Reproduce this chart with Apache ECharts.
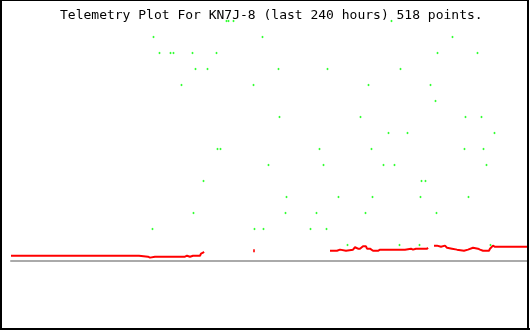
<!DOCTYPE html>
<html>
<head>
<meta charset="utf-8">
<script src="https://cdn.jsdelivr.net/npm/echarts@6/dist/echarts.min.js"></script>
<style>html,body{margin:0;padding:0;background:#fff;}#c{width:530px;height:330px;}</style>
</head>
<body>
<div id="c"></div>
<script>
// Title
var titleText = 'Telemetry Plot For KN7J-8 (last 240 hours) 518 points.';
// X axis: hours over the last 240 hours
var xMin = 0, xMax = 240;
// Green readings: hour and level
var greenHours = [
  99.65, 100.58, 102.89, 175.95,
  65.90, 116.30, 204.16,
  68.67, 73.76, 75.14, 83.93, 95.03, 197.23, 215.72,
  85.32, 90.87, 123.70, 146.36, 180.12,
  78.84, 112.14, 165.32, 193.99,
  196.30,
  124.16, 161.62, 210.17, 217.57,
  174.57, 183.35, 223.58,
  95.49, 96.88, 142.66, 166.70, 209.71, 218.50,
  119.07, 144.51, 172.25, 177.34, 219.88,
  89.02, 189.83, 191.67,
  127.40, 151.44, 167.17, 189.36, 211.56,
  84.39, 126.94, 141.27, 163.93, 196.76,
  65.43, 112.60, 116.76, 138.50, 145.90,
  155.61, 179.65, 188.90, 221.73
];
var greenLevels = [
  15, 15, 15, 15,
  14, 14, 14,
  13, 13, 13, 13, 13, 13, 13,
  12, 12, 12, 12, 12,
  11, 11, 11, 11,
  10,
  9, 9, 9, 9,
  8, 8, 8,
  7, 7, 7, 7, 7, 7,
  6, 6, 6, 6, 6,
  5, 5, 5,
  4, 4, 4, 4, 4,
  3, 3, 3, 3, 3,
  2, 2, 2, 2, 2,
  1, 1, 1, 1
];
// Red readings (null = no data)
var redHours = [
  0, 59.19, 59.65, 63.35, 64.28, 65.20, 66.59, 67.51, 67.98, 80.46, 81.39, 81.85, 82.77, 83.24, 84.16, 84.62, 85.09, 87.40, 87.86, 88.79, 89.25,
  100,
  147.51, 150.75, 151.21, 152.14, 152.60, 154.91, 155.38, 158.15, 159.08, 160.00, 160.46, 161.39, 161.85, 162.77, 164.16, 164.62, 166.01, 166.47, 167.40, 169.71, 170.64, 173.87, 174.34, 174.80, 182.20, 182.66, 184.97, 185.43, 185.90, 187.28, 192.37, 192.83,
  194,
  195.61, 196.99, 197.46, 198.84, 199.31, 200.69, 201.62, 202.08, 203.93, 204.39, 206.24, 206.71, 209.48, 209.94, 211.33, 212.25, 213.64, 214.10, 215.95, 216.88, 218.27, 221.04, 221.50, 222.89, 223.82, 240
];
var redValues = [
  0.33, 0.33, 0.27, 0.27, 0.21, 0.27, 0.27, 0.21, 0.27, 0.27, 0.33, 0.27, 0.27, 0.33, 0.33, 0.27, 0.33, 0.33, 0.46, 0.52, 0.58,
  null,
  0.64, 0.64, 0.71, 0.71, 0.64, 0.64, 0.71, 0.71, 0.86, 0.86, 0.77, 0.77, 0.71, 0.92, 0.92, 0.77, 0.77, 0.71, 0.64, 0.64, 0.71, 0.71, 0.77, 0.71, 0.71, 0.77, 0.77, 0.71, 0.71, 0.77, 0.77, 0.83,
  null,
  0.96, 0.96, 0.89, 0.89, 0.96, 0.96, 0.83, 0.77, 0.77, 0.71, 0.71, 0.64, 0.64, 0.71, 0.71, 0.83, 0.83, 0.77, 0.77, 0.71, 0.64, 0.64, 0.77, 0.96, 0.89, 0.89
];
// Isolated red reading
var redLoneHours = [112.37];
var redLoneValues = [0.64];

var greenData = greenHours.map(function (h, i) { return [h, greenLevels[i]]; });
var redData = redHours.map(function (h, i) { return [h, redValues[i]]; });
var redLone = redLoneHours.map(function (h, i) { return [h, redLoneValues[i]]; });

var chart = echarts.init(document.getElementById('c'), null, {renderer: 'canvas'});
chart.setOption({
  animation: false,
  backgroundColor: '#ffffff',
  title: {
    text: titleText, left: 60, top: 9, padding: 0, z: 0,
    textStyle: {fontFamily: 'DejaVu Sans Mono', fontSize: 13, fontWeight: 'normal', color: '#000'}
  },
  grid: {left: 11, right: 0, top: 5, bottom: 5},
  xAxis: {
    type: 'value', min: xMin, max: xMax,
    axisLine: {show: true, onZero: true, lineStyle: {color: '#aaaaaa', width: 2}},
    axisTick: {show: false}, axisLabel: {show: false}, splitLine: {show: false}
  },
  yAxis: {
    type: 'value', min: -4, max: 16,
    axisLine: {show: false}, axisTick: {show: false}, axisLabel: {show: false}, splitLine: {show: false}
  },
  series: [
    {type: 'line', data: redData, connectNulls: false, showSymbol: false, z: 5,
     lineStyle: {color: '#ff0000', width: 2}},
    {type: 'scatter', data: redLone, symbol: 'rect', symbolSize: [2, 3], z: 5,
     itemStyle: {color: '#ff0000'}},
    {type: 'scatter', data: greenData, symbol: 'rect', symbolSize: [1.6, 2.2], z: 10,
     itemStyle: {color: '#00ff00'}}
  ],
  graphic: [
    {type: 'rect', shape: {x: 0, y: 0, width: 530, height: 1}, style: {fill: '#000'}, z: 100},
    {type: 'rect', shape: {x: 0, y: 0, width: 2, height: 330}, style: {fill: '#000'}, z: 100},
    {type: 'rect', shape: {x: 527, y: 0, width: 2, height: 330}, style: {fill: '#000'}, z: 100},
    {type: 'rect', shape: {x: 529, y: 0, width: 1, height: 330}, style: {fill: '#fff'}, z: 100},
    {type: 'rect', shape: {x: 0, y: 328, width: 530, height: 2}, style: {fill: '#000'}, z: 100}
  ]
});
</script>
</body>
</html>
